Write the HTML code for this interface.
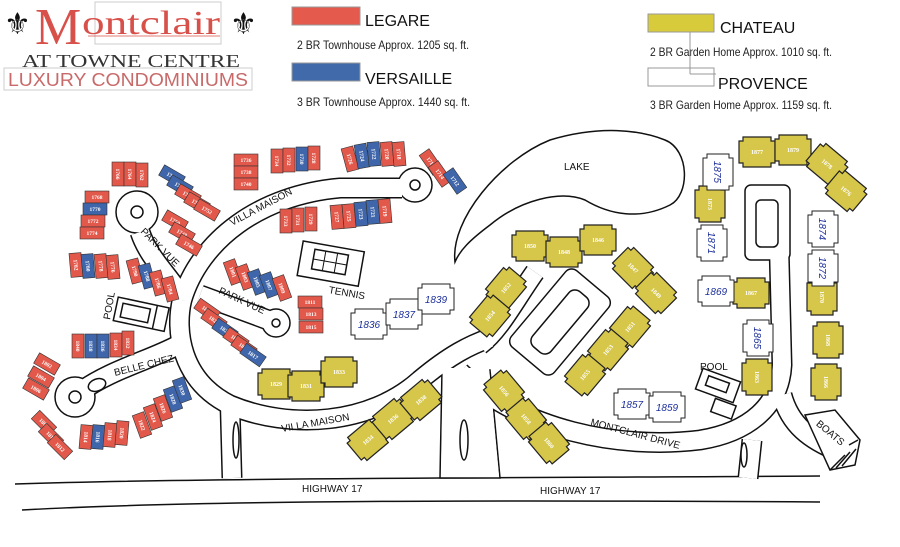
<!DOCTYPE html>
<html><head><meta charset="utf-8"><style>
html,body{margin:0;padding:0;background:#fff;}
svg{display:block;}
.u rect{stroke:#333;stroke-width:.6}
.r{fill:#e2584a}.b{fill:#3f66aa}
.u text{font:bold 5.5px "Liberation Serif",serif;fill:#fff;text-anchor:middle}
.ch use{fill:#d6c64a;stroke:#222;stroke-width:1.2}
.ch text{font:bold 6px "Liberation Serif",serif;fill:#fff;text-anchor:middle}
.pv use{fill:#fff;stroke:#222;stroke-width:1}
.pv text{font:italic 10px "Liberation Sans",sans-serif;fill:#1c2f9c;text-anchor:middle}
.lbl{font:10px "Liberation Sans",sans-serif;fill:#111}
.leg{font:12px "Liberation Sans",sans-serif;fill:#222}
.rb path{fill:none;stroke:#111;stroke-width:21}
.rw path{fill:none;stroke:#fff;stroke-width:18}
</style></head><body>
<svg width="900" height="547" viewBox="0 0 900 547" xmlns="http://www.w3.org/2000/svg">
<defs>
<polygon id="oct" points="-18,-11 -14,-11 -14,-15 14,-15 14,-11 18,-11 18,11 14,11 14,15 -14,15 -14,11 -18,11"/>
</defs>

<!-- Header logo -->
<rect x="95" y="2" width="126" height="42" fill="none" stroke="#ccc" stroke-width="1"/>
<text x="4" y="34" style="font:30px 'DejaVu Sans',sans-serif" fill="#111">⚜</text>
<text x="230" y="34" style="font:30px 'DejaVu Sans',sans-serif" fill="#111">⚜</text>
<text x="35" y="44" style="font:52px 'Liberation Serif',serif" fill="#d8504a">M</text>
<text x="82" y="34" style="font:34px 'Liberation Serif',serif" fill="#d8504a" textLength="138" lengthAdjust="spacingAndGlyphs">ontclair</text>
<line x1="88" y1="36" x2="220" y2="36" stroke="#d8504a" stroke-width=".8"/>
<text x="22" y="67" style="font:18px 'Liberation Serif',serif" fill="#333" textLength="218" lengthAdjust="spacingAndGlyphs">AT TOWNE CENTRE</text>
<rect x="4" y="68" width="248" height="22" fill="none" stroke="#ccc"/>
<text x="8" y="86" style="font:18px 'Liberation Sans',sans-serif" fill="#c86a6a" textLength="240" lengthAdjust="spacingAndGlyphs">LUXURY CONDOMINIUMS</text>

<!-- Legend -->
<rect x="292" y="7" width="68" height="18" fill="#e45a4c" stroke="#999"/>
<text x="365" y="26" style="font:16px 'Liberation Sans',sans-serif" fill="#111">LEGARE</text>
<text x="297" y="49" class="leg" textLength="172" lengthAdjust="spacingAndGlyphs">2 BR Townhouse Approx. 1205 sq. ft.</text>
<rect x="292" y="63" width="68" height="18" fill="#416aaa" stroke="#999"/>
<text x="365" y="84" style="font:16px 'Liberation Sans',sans-serif" fill="#111">VERSAILLE</text>
<text x="297" y="106" class="leg" textLength="173" lengthAdjust="spacingAndGlyphs">3 BR Townhouse Approx. 1440 sq. ft.</text>
<rect x="648" y="14" width="66" height="18" fill="#d7cb3c" stroke="#999"/>
<text x="720" y="33" style="font:16px 'Liberation Sans',sans-serif" fill="#111">CHATEAU</text>
<text x="650" y="56" class="leg" textLength="182" lengthAdjust="spacingAndGlyphs">2 BR Garden Home Approx. 1010 sq. ft.</text>
<rect x="648" y="68" width="66" height="18" fill="#fff" stroke="#999"/>
<line x1="690" y1="32" x2="690" y2="74" stroke="#999"/><line x1="690" y1="74" x2="716" y2="74" stroke="#999"/>
<text x="718" y="89" style="font:16px 'Liberation Sans',sans-serif" fill="#111">PROVENCE</text>
<text x="650" y="109" class="leg" textLength="182" lengthAdjust="spacingAndGlyphs">3 BR Garden Home Approx. 1159 sq. ft.</text>

<!-- Highway -->
<path d="M15 484 C200 478 500 478 820 476" stroke="#111" stroke-width="1.5" fill="none"/>
<path d="M22 510 C200 500 500 500 820 502" stroke="#111" stroke-width="1.5" fill="none"/>
<text x="302" y="492" class="lbl">HIGHWAY 17</text>
<text x="540" y="494" class="lbl">HIGHWAY 17</text>

<!-- Lake -->
<path d="M455 262 C450 220 500 160 550 140 C600 125 640 130 665 140 C690 150 690 195 670 205 C640 220 610 215 585 200 C560 190 520 200 490 225 C470 240 460 250 455 262 Z" stroke="#111" stroke-width="1.5" fill="none"/>
<text x="564" y="170" class="lbl">LAKE</text>

<!-- Roads -->
<g class="rb">
<path d="M182 300 C200 240 260 195 340 188 L402 188"/>
<path d="M182 300 C175 280 150 262 140 232"/>
<path d="M200 295 L268 320"/>
<path d="M178 345 C150 360 110 370 80 392"/>
<path d="M182 300 C175 330 180 380 230 405 C290 430 370 425 420 380 C450 355 470 345 490 338"/>
<path d="M230 405 L232 478"/>
<path d="M480 345 C500 330 515 300 535 272"/>
<path d="M460 372 C520 430 620 450 700 440 C750 432 780 405 782 365 L778 205"/>
<path d="M752 440 L748 478"/>
<path d="M782 395 C790 425 810 440 840 452"/>
</g>
<g fill="#fff" stroke="#111" stroke-width="1.5">
<circle cx="415" cy="185" r="17"/><circle cx="137" cy="212" r="21"/><circle cx="276" cy="323" r="14"/><circle cx="75" cy="397" r="20"/>
<path d="M442 370 L490 370 L500 478 L440 478 Z"/>
<rect x="745" y="185" width="45" height="75" rx="6"/>
<g transform="translate(560,322) rotate(40)"><rect x="-28" y="-50" width="56" height="100" rx="8"/></g>
</g>
<g class="rw">
<path d="M182 300 C200 240 260 195 340 188 L402 188"/>
<path d="M182 300 C175 280 150 262 140 232"/>
<path d="M200 295 L268 320"/>
<path d="M178 345 C150 360 110 370 80 392"/>
<path d="M182 300 C175 330 180 380 230 405 C290 430 370 425 420 380 C450 355 470 345 490 338"/>
<path d="M230 405 L232 478"/>
<path d="M480 345 C500 330 515 300 535 272"/>
<path d="M460 372 C520 430 620 450 700 440 C750 432 780 405 782 365 L778 205"/>
<path d="M752 440 L748 478"/>
<path d="M782 395 C790 425 810 440 840 452"/>
</g>
<g fill="#fff" stroke="none">
<circle cx="415" cy="185" r="15.5"/><circle cx="137" cy="212" r="19.5"/><circle cx="276" cy="323" r="12.5"/><circle cx="75" cy="397" r="18.5"/>
<path d="M443 368 L489 368 L499 476 L441 476 Z"/>
<rect x="746.5" y="186.5" width="42" height="72" rx="6"/>
<g transform="translate(560,322) rotate(40)"><rect x="-26.5" y="-48.5" width="53" height="97" rx="8"/></g>
</g>
<g fill="#fff" stroke="#111" stroke-width="1.5">
<circle cx="415" cy="185" r="5"/><circle cx="137" cy="212" r="6"/><circle cx="276" cy="323" r="4"/><circle cx="75" cy="397" r="6"/>
<ellipse cx="97" cy="385" rx="9" ry="6" transform="rotate(-20 97 385)"/>
<ellipse cx="236" cy="440" rx="3" ry="18"/><ellipse cx="464" cy="440" rx="4" ry="20"/><ellipse cx="744" cy="455" rx="3" ry="12"/>
<rect x="756" y="200" width="22" height="47" rx="5"/>
<g transform="translate(560,322) rotate(40)"><rect x="-12" y="-36" width="24" height="72" rx="8"/></g>
</g>
<!-- Boats -->
<g stroke="#111" stroke-width="1.5" fill="#fff">
<path d="M805 415 L835 410 L860 440 L855 465 L830 470 Z"/>
<path d="M830 470 L845 455 M836 468 L850 452 M842 466 L856 449 M849 445 L858 440" fill="none"/>
</g>
<text x="810" y="430" class="lbl" transform="rotate(40 820 435)">BOATS</text>

<!-- Pools, tennis -->
<g transform="rotate(12 140 315)" fill="#fff" stroke="#111" stroke-width="1.5">
<rect x="115" y="302" width="52" height="24"/><rect x="121" y="307" width="28" height="14"/><line x1="155" y1="302" x2="155" y2="326"/>
</g>
<text x="0" y="0" class="lbl" transform="translate(110 320) rotate(-80)">POOL</text>
<g transform="rotate(10 330 262)" fill="#fff" stroke="#111" stroke-width="1.5">
<rect x="300" y="246" width="62" height="35"/><rect x="313" y="252" width="34" height="20"/>
<line x1="324" y1="252" x2="324" y2="272" stroke-width="1"/><line x1="336" y1="252" x2="336" y2="272" stroke-width="1"/><line x1="313" y1="262" x2="347" y2="262" stroke-width="1"/>
</g>
<text x="328" y="296" class="lbl" transform="rotate(10 345 296)">TENNIS</text>
<g transform="rotate(20 710 390)" fill="#fff" stroke="#111" stroke-width="1.5">
<rect x="696" y="372" width="40" height="22"/><rect x="704" y="377" width="22" height="10"/><rect x="718" y="396" width="22" height="14"/>
</g>
<text x="700" y="370" class="lbl">POOL</text>

<!-- Road labels -->
<text x="0" y="0" class="lbl" transform="translate(232 226) rotate(-28)">VILLA MAISON</text>
<text x="0" y="0" class="lbl" transform="translate(140 232) rotate(45)">PARK VUE</text>
<text x="0" y="0" class="lbl" transform="translate(218 293) rotate(25)">PARK VUE</text>
<text x="0" y="0" class="lbl" transform="translate(115 376) rotate(-14)">BELLE CHEZ</text>
<text x="0" y="0" class="lbl" transform="translate(282 432) rotate(-10)">VILLA MAISON</text>
<text x="0" y="0" class="lbl" transform="translate(590 425) rotate(15)">MONTCLAIR DRIVE</text>

<!-- Townhouses -->
<g class="u">
<g transform="translate(118,174) rotate(90)"><rect class="r" x="-12" y="-6" width="24" height="12"/><text y="2">1766</text></g>
<g transform="translate(130,174) rotate(90)"><rect class="r" x="-12" y="-6" width="24" height="12"/><text y="2">1764</text></g>
<g transform="translate(142,175) rotate(90)"><rect class="r" x="-12" y="-6" width="24" height="12"/><text y="2">1762</text></g>
<g transform="translate(172,176) rotate(30)"><rect class="b" x="-12" y="-6" width="24" height="12"/><text y="2">1760</text></g>
<g transform="translate(180,186) rotate(30)"><rect class="b" x="-12" y="-6" width="24" height="12"/><text y="2">1758</text></g>
<g transform="translate(188,195) rotate(30)"><rect class="r" x="-12" y="-6" width="24" height="12"/><text y="2">1756</text></g>
<g transform="translate(197,203) rotate(30)"><rect class="r" x="-12" y="-6" width="24" height="12"/><text y="2">1754</text></g>
<g transform="translate(207,210) rotate(30)"><rect class="r" x="-12" y="-6" width="24" height="12"/><text y="2">1752</text></g>
<g transform="translate(97,197)"><rect class="r" x="-12" y="-6" width="24" height="12"/><text y="2">1768</text></g>
<g transform="translate(95,209)"><rect class="b" x="-12" y="-6" width="24" height="12"/><text y="2">1770</text></g>
<g transform="translate(93,221)"><rect class="r" x="-12" y="-6" width="24" height="12"/><text y="2">1772</text></g>
<g transform="translate(92,233)"><rect class="r" x="-12" y="-6" width="24" height="12"/><text y="2">1774</text></g>
<g transform="translate(175,221) rotate(30)"><rect class="r" x="-12" y="-6" width="24" height="12"/><text y="2">1750</text></g>
<g transform="translate(182,233) rotate(30)"><rect class="r" x="-12" y="-6" width="24" height="12"/><text y="2">1748</text></g>
<g transform="translate(189,245) rotate(30)"><rect class="r" x="-12" y="-6" width="24" height="12"/><text y="2">1746</text></g>
<g transform="translate(76,265) rotate(85)"><rect class="r" x="-12" y="-6" width="24" height="12"/><text y="2">1782</text></g>
<g transform="translate(88,266) rotate(85)"><rect class="b" x="-12" y="-6" width="24" height="12"/><text y="2">1780</text></g>
<g transform="translate(101,266) rotate(85)"><rect class="r" x="-12" y="-6" width="24" height="12"/><text y="2">1778</text></g>
<g transform="translate(113,267) rotate(85)"><rect class="r" x="-12" y="-6" width="24" height="12"/><text y="2">1776</text></g>
<g transform="translate(135,271) rotate(75)"><rect class="r" x="-12" y="-6" width="24" height="12"/><text y="2">1790</text></g>
<g transform="translate(147,276) rotate(75)"><rect class="b" x="-12" y="-6" width="24" height="12"/><text y="2">1788</text></g>
<g transform="translate(158,283) rotate(75)"><rect class="r" x="-12" y="-6" width="24" height="12"/><text y="2">1786</text></g>
<g transform="translate(170,289) rotate(75)"><rect class="r" x="-12" y="-6" width="24" height="12"/><text y="2">1784</text></g>
<g transform="translate(78,346) rotate(90)"><rect class="r" x="-12" y="-6" width="24" height="12"/><text y="2">1840</text></g>
<g transform="translate(91,346) rotate(90)"><rect class="b" x="-12" y="-6" width="24" height="12"/><text y="2">1838</text></g>
<g transform="translate(103,346) rotate(90)"><rect class="b" x="-12" y="-6" width="24" height="12"/><text y="2">1836</text></g>
<g transform="translate(116,345) rotate(90)"><rect class="r" x="-12" y="-6" width="24" height="12"/><text y="2">1834</text></g>
<g transform="translate(128,343) rotate(90)"><rect class="r" x="-12" y="-6" width="24" height="12"/><text y="2">1832</text></g>
<g transform="translate(47,364) rotate(30)"><rect class="r" x="-12" y="-6" width="24" height="12"/><text y="2">1802</text></g>
<g transform="translate(41,377) rotate(30)"><rect class="r" x="-12" y="-6" width="24" height="12"/><text y="2">1804</text></g>
<g transform="translate(36,389) rotate(30)"><rect class="r" x="-12" y="-6" width="24" height="12"/><text y="2">1806</text></g>
<g transform="translate(44,423) rotate(45)"><rect class="r" x="-12" y="-6" width="24" height="12"/><text y="2">1808</text></g>
<g transform="translate(51,436) rotate(45)"><rect class="r" x="-12" y="-6" width="24" height="12"/><text y="2">1810</text></g>
<g transform="translate(60,447) rotate(45)"><rect class="r" x="-12" y="-6" width="24" height="12"/><text y="2">1812</text></g>
<g transform="translate(86,437) rotate(95)"><rect class="r" x="-12" y="-6" width="24" height="12"/><text y="2">1814</text></g>
<g transform="translate(98,437) rotate(95)"><rect class="b" x="-12" y="-6" width="24" height="12"/><text y="2">1816</text></g>
<g transform="translate(110,435) rotate(95)"><rect class="r" x="-12" y="-6" width="24" height="12"/><text y="2">1818</text></g>
<g transform="translate(122,433) rotate(95)"><rect class="r" x="-12" y="-6" width="24" height="12"/><text y="2">1820</text></g>
<g transform="translate(142,425) rotate(70)"><rect class="r" x="-12" y="-6" width="24" height="12"/><text y="2">1822</text></g>
<g transform="translate(153,417) rotate(70)"><rect class="r" x="-12" y="-6" width="24" height="12"/><text y="2">1824</text></g>
<g transform="translate(163,408) rotate(70)"><rect class="r" x="-12" y="-6" width="24" height="12"/><text y="2">1826</text></g>
<g transform="translate(173,399) rotate(70)"><rect class="b" x="-12" y="-6" width="24" height="12"/><text y="2">1828</text></g>
<g transform="translate(182,390) rotate(70)"><rect class="b" x="-12" y="-6" width="24" height="12"/><text y="2">1830</text></g>
<g transform="translate(246,160)"><rect class="r" x="-12" y="-6" width="24" height="12"/><text y="2">1736</text></g>
<g transform="translate(246,172)"><rect class="r" x="-12" y="-6" width="24" height="12"/><text y="2">1738</text></g>
<g transform="translate(246,184)"><rect class="r" x="-12" y="-6" width="24" height="12"/><text y="2">1740</text></g>
<g transform="translate(277,161) rotate(90)"><rect class="r" x="-12" y="-6" width="24" height="12"/><text y="2">1734</text></g>
<g transform="translate(289,160) rotate(90)"><rect class="r" x="-12" y="-6" width="24" height="12"/><text y="2">1732</text></g>
<g transform="translate(302,159) rotate(90)"><rect class="b" x="-12" y="-6" width="24" height="12"/><text y="2">1730</text></g>
<g transform="translate(314,158) rotate(90)"><rect class="r" x="-12" y="-6" width="24" height="12"/><text y="2">1728</text></g>
<g transform="translate(350,159) rotate(75)"><rect class="r" x="-12" y="-6" width="24" height="12"/><text y="2">1726</text></g>
<g transform="translate(362,156) rotate(80)"><rect class="b" x="-12" y="-6" width="24" height="12"/><text y="2">1724</text></g>
<g transform="translate(374,154) rotate(85)"><rect class="b" x="-12" y="-6" width="24" height="12"/><text y="2">1722</text></g>
<g transform="translate(387,154) rotate(85)"><rect class="r" x="-12" y="-6" width="24" height="12"/><text y="2">1720</text></g>
<g transform="translate(399,154) rotate(85)"><rect class="r" x="-12" y="-6" width="24" height="12"/><text y="2">1718</text></g>
<g transform="translate(431,162) rotate(55)"><rect class="r" x="-12" y="-6" width="24" height="12"/><text y="2">1716</text></g>
<g transform="translate(440,174) rotate(55)"><rect class="r" x="-12" y="-6" width="24" height="12"/><text y="2">1714</text></g>
<g transform="translate(455,181) rotate(55)"><rect class="b" x="-12" y="-6" width="24" height="12"/><text y="2">1712</text></g>
<g transform="translate(286,221) rotate(90)"><rect class="r" x="-12" y="-6" width="24" height="12"/><text y="2">1733</text></g>
<g transform="translate(298,220) rotate(90)"><rect class="r" x="-12" y="-6" width="24" height="12"/><text y="2">1731</text></g>
<g transform="translate(311,219) rotate(90)"><rect class="r" x="-12" y="-6" width="24" height="12"/><text y="2">1729</text></g>
<g transform="translate(337,217) rotate(85)"><rect class="r" x="-12" y="-6" width="24" height="12"/><text y="2">1727</text></g>
<g transform="translate(349,216) rotate(85)"><rect class="r" x="-12" y="-6" width="24" height="12"/><text y="2">1725</text></g>
<g transform="translate(361,214) rotate(85)"><rect class="b" x="-12" y="-6" width="24" height="12"/><text y="2">1723</text></g>
<g transform="translate(373,212) rotate(85)"><rect class="b" x="-12" y="-6" width="24" height="12"/><text y="2">1721</text></g>
<g transform="translate(385,211) rotate(85)"><rect class="r" x="-12" y="-6" width="24" height="12"/><text y="2">1719</text></g>
<g transform="translate(233,272) rotate(70)"><rect class="r" x="-12" y="-6" width="24" height="12"/><text y="2">1801</text></g>
<g transform="translate(245,277) rotate(70)"><rect class="r" x="-12" y="-6" width="24" height="12"/><text y="2">1803</text></g>
<g transform="translate(257,282) rotate(70)"><rect class="b" x="-12" y="-6" width="24" height="12"/><text y="2">1805</text></g>
<g transform="translate(269,285) rotate(70)"><rect class="b" x="-12" y="-6" width="24" height="12"/><text y="2">1807</text></g>
<g transform="translate(282,288) rotate(70)"><rect class="r" x="-12" y="-6" width="24" height="12"/><text y="2">1809</text></g>
<g transform="translate(310,302)"><rect class="r" x="-12" y="-6" width="24" height="12"/><text y="2">1811</text></g>
<g transform="translate(311,314)"><rect class="r" x="-12" y="-6" width="24" height="12"/><text y="2">1813</text></g>
<g transform="translate(311,327)"><rect class="r" x="-12" y="-6" width="24" height="12"/><text y="2">1815</text></g>
<g transform="translate(207,310) rotate(35)"><rect class="r" x="-12" y="-6" width="24" height="12"/><text y="2">1827</text></g>
<g transform="translate(214,320) rotate(35)"><rect class="r" x="-12" y="-6" width="24" height="12"/><text y="2">1825</text></g>
<g transform="translate(225,330) rotate(35)"><rect class="b" x="-12" y="-6" width="24" height="12"/><text y="2">1823</text></g>
<g transform="translate(236,339) rotate(35)"><rect class="r" x="-12" y="-6" width="24" height="12"/><text y="2">1821</text></g>
<g transform="translate(244,347) rotate(35)"><rect class="r" x="-12" y="-6" width="24" height="12"/><text y="2">1819</text></g>
<g transform="translate(253,355) rotate(35)"><rect class="b" x="-12" y="-6" width="24" height="12"/><text y="2">1817</text></g>
</g>

<!-- Chateau -->
<g class="ch">
<g transform="translate(276,384)"><use href="#oct"/><text y="2">1829</text></g>
<g transform="translate(306,386)"><use href="#oct"/><text y="2">1831</text></g>
<g transform="translate(339,372)"><use href="#oct"/><text y="2">1833</text></g>
<g transform="translate(368,440) rotate(-40)"><use href="#oct"/><text y="2">1834</text></g>
<g transform="translate(393,419) rotate(-40)"><use href="#oct"/><text y="2">1836</text></g>
<g transform="translate(421,400) rotate(-40)"><use href="#oct"/><text y="2">1838</text></g>
<g transform="translate(530,246)"><use href="#oct"/><text y="2">1850</text></g>
<g transform="translate(564,252)"><use href="#oct"/><text y="2">1848</text></g>
<g transform="translate(598,240)"><use href="#oct"/><text y="2">1846</text></g>
<g transform="translate(506,288) rotate(-50)"><use href="#oct"/><text y="2">1852</text></g>
<g transform="translate(490,316) rotate(-50)"><use href="#oct"/><text y="2">1854</text></g>
<g transform="translate(633,268) rotate(45)"><use href="#oct"/><text y="2">1847</text></g>
<g transform="translate(656,293) rotate(45)"><use href="#oct"/><text y="2">1849</text></g>
<g transform="translate(630,327) rotate(-50)"><use href="#oct"/><text y="2">1851</text></g>
<g transform="translate(608,350) rotate(-50)"><use href="#oct"/><text y="2">1853</text></g>
<g transform="translate(585,375) rotate(-50)"><use href="#oct"/><text y="2">1855</text></g>
<g transform="translate(504,391) rotate(50)"><use href="#oct"/><text y="2">1856</text></g>
<g transform="translate(526,419) rotate(50)"><use href="#oct"/><text y="2">1858</text></g>
<g transform="translate(549,443) rotate(50)"><use href="#oct"/><text y="2">1860</text></g>
<g transform="translate(757,152)"><use href="#oct"/><text y="2">1877</text></g>
<g transform="translate(793,150)"><use href="#oct"/><text y="2">1879</text></g>
<g transform="translate(827,164) rotate(40)"><use href="#oct"/><text y="2">1878</text></g>
<g transform="translate(846,191) rotate(40)"><use href="#oct"/><text y="2">1876</text></g>
<g transform="translate(710,204) rotate(90)"><use href="#oct"/><text y="2">1873</text></g>
<g transform="translate(751,293)"><use href="#oct"/><text y="2">1867</text></g>
<g transform="translate(757,377) rotate(90)"><use href="#oct"/><text y="2">1863</text></g>
<g transform="translate(822,297) rotate(90)"><use href="#oct"/><text y="2">1870</text></g>
<g transform="translate(828,340) rotate(90)"><use href="#oct"/><text y="2">1868</text></g>
<g transform="translate(826,382) rotate(90)"><use href="#oct"/><text y="2">1866</text></g>
</g>

<!-- Provence -->
<g class="pv">
<g transform="translate(369,324)"><use href="#oct"/><text y="4">1836</text></g>
<g transform="translate(404,314)"><use href="#oct"/><text y="4">1837</text></g>
<g transform="translate(436,299)"><use href="#oct"/><text y="4">1839</text></g>
<g transform="translate(718,172) rotate(90)"><use href="#oct"/><text y="4">1875</text></g>
<g transform="translate(712,243) rotate(90)"><use href="#oct"/><text y="4">1871</text></g>
<g transform="translate(716,291)"><use href="#oct"/><text y="4">1869</text></g>
<g transform="translate(758,338) rotate(90)"><use href="#oct"/><text y="4">1865</text></g>
<g transform="translate(823,229) rotate(90)"><use href="#oct"/><text y="4">1874</text></g>
<g transform="translate(823,268) rotate(90)"><use href="#oct"/><text y="4">1872</text></g>
<g transform="translate(632,404)"><use href="#oct"/><text y="4">1857</text></g>
<g transform="translate(667,407)"><use href="#oct"/><text y="4">1859</text></g>
</g>
</svg>
</body></html>
